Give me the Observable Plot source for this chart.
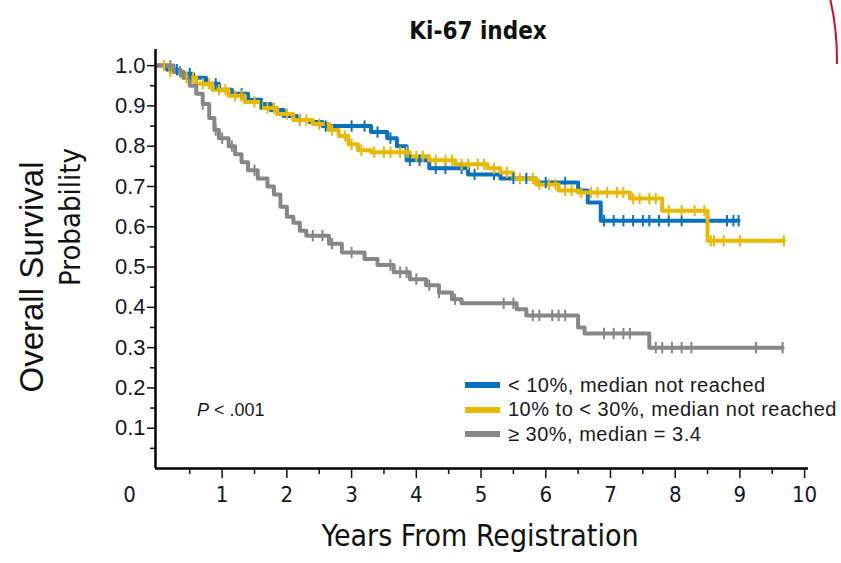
<!DOCTYPE html>
<html><head><meta charset="utf-8">
<script src="https://cdn.jsdelivr.net/npm/d3@7"></script>
<script src="https://cdn.jsdelivr.net/npm/@observablehq/plot@0.6"></script>
<style>
body{margin:0;background:#fff;}
#wrap{position:relative;width:841px;height:563px;overflow:hidden;background:#fff;}
#wrap svg{position:absolute;left:0;top:0;}
.legend{position:absolute;left:465px;top:373px;font-family:"Liberation Sans",Arial,sans-serif;font-size:20px;letter-spacing:0.5px;color:#1a1a1a;}
.legend .row{display:flex;align-items:center;height:24.5px;white-space:nowrap;}
.legend .sw{width:35px;height:6px;margin-right:8px;}
.pval{position:absolute;left:197px;top:400px;font-family:"Liberation Sans",Arial,sans-serif;font-size:18px;color:#1a1a1a;}
.arcclip{position:absolute;left:700px;top:0;width:141px;height:64px;overflow:hidden;}
.arc{position:absolute;left:-418px;top:-218px;width:556px;height:556px;border:2px solid #c8102e;border-radius:50%;box-sizing:border-box;}
</style></head><body>
<div id="wrap"></div>
<script>
// ---------- data ----------
const seriesNames = ["< 10%, median not reached", "10% to < 30%, median not reached", "\u2265 30%, median = 3.4"];
const seriesColors = ["#0a72bd", "#e8b904", "#878787"];

const xTicks = [1,2,3,4,5,6,7,8,9,10];
const xMinor = [0.5,1.5,2.5,3.5,4.5,5.5,6.5,7.5,8.5,9.5];
const yTicks = [0.1,0.2,0.3,0.4,0.5,0.6,0.7,0.8,0.9,1.0];
const yMinor = [0.05,0.15,0.25,0.35,0.45,0.55,0.65,0.75,0.85,0.95];

// < 10%
const blueT = [0,0.15,0.35,0.55,0.75,0.95,1.15,1.4,1.6,1.75,1.95,2.15,2.35,2.55,3.3,3.55,3.7,3.85,4.2,4.8,5.3,5.85,6.5,6.65,6.85];
const blueS = [1,0.99,0.98,0.97,0.955,0.94,0.93,0.915,0.905,0.89,0.875,0.865,0.86,0.85,0.835,0.82,0.8,0.765,0.745,0.73,0.72,0.71,0.69,0.66,0.615];
const blueEnd = 8.98;
const blueCens = [0.3,0.5,0.9,1.3,1.6,2.2,2.6,3.0,3.2,3.4,3.6,3.9,4.05,4.3,4.45,4.7,4.9,5.2,5.5,5.7,6.0,6.3,6.9,7.05,7.2,7.35,7.5,7.6,7.75,7.9,8.1,8.8,8.9,8.98];

// 10% to < 30%
const yellowT = [0,0.2,0.4,0.6,0.85,1.1,1.35,1.6,1.85,2.1,2.4,2.65,2.8,2.95,3.1,3.3,3.9,4.2,4.6,5.1,5.3,5.5,5.85,6.2,6.5,7.3,7.8,8.5];
const yellowS = [1,0.985,0.97,0.955,0.94,0.925,0.91,0.895,0.88,0.865,0.855,0.84,0.825,0.805,0.79,0.785,0.775,0.765,0.755,0.745,0.735,0.72,0.705,0.69,0.685,0.67,0.64,0.565];
const yellowEnd = 9.68;
const yellowCens = [0.1,0.2,0.35,0.45,0.55,0.7,0.8,0.95,1.05,1.2,1.3,1.5,1.7,1.8,2.0,2.2,2.3,2.5,2.7,2.9,3.0,3.15,3.35,3.5,3.6,3.75,3.85,4.0,4.1,4.3,4.45,4.55,4.7,4.8,4.95,5.05,5.2,5.4,5.6,5.8,5.9,6.05,6.15,6.3,6.4,6.55,6.7,6.8,6.95,7.1,7.2,7.35,7.45,7.6,7.7,7.9,8.1,8.3,8.45,8.55,8.6,8.75,9.0,9.68];

// >= 30%
const grayT = [0,0.25,0.4,0.5,0.6,0.7,0.8,0.88,0.95,1.1,1.2,1.3,1.4,1.55,1.7,1.8,1.9,2.0,2.1,2.2,2.3,2.65,2.85,3.2,3.4,3.65,3.9,4.15,4.35,4.55,4.7,5.55,5.7,6.5,6.6,7.6];
const grayS = [1,0.985,0.97,0.95,0.93,0.905,0.87,0.84,0.82,0.8,0.78,0.76,0.74,0.72,0.7,0.68,0.65,0.625,0.61,0.59,0.578,0.558,0.536,0.52,0.505,0.487,0.47,0.455,0.437,0.42,0.41,0.395,0.38,0.35,0.335,0.30];
const grayEnd = 9.66;
const grayCens = [0.2,0.35,0.7,0.9,1.0,1.15,1.5,2.4,2.55,2.7,3.0,3.6,3.75,3.85,4.0,4.2,4.35,4.6,5.35,5.5,5.8,5.9,6.1,6.2,6.3,6.9,7.05,7.2,7.3,7.7,7.8,7.95,8.1,8.25,9.25,9.66];

// ---------- build tables ----------
const groups = [
  {name: seriesNames[0], T: blueT, S: blueS, end: blueEnd, cens: blueCens},
  {name: seriesNames[1], T: yellowT, S: yellowS, end: yellowEnd, cens: yellowCens},
  {name: seriesNames[2], T: grayT, S: grayS, end: grayEnd, cens: grayCens}
];
const lineRows = [];
const censRows = [];
for (const g of groups) {
  g.T.forEach((t, i) => lineRows.push({group: g.name, t, s: g.S[i]}));
  lineRows.push({group: g.name, t: g.end, s: g.S[g.S.length - 1]});
  const stepAt = t => { let s = g.S[0]; g.T.forEach((tt, i) => { if (tt <= t) s = g.S[i]; }); return s; };
  g.cens.forEach(t => censRows.push({group: g.name, t, s: stepAt(t)}));
}

const censorSymbol = {draw(ctx, size) { const h = Math.sqrt(size); ctx.moveTo(0, -h); ctx.lineTo(0, h); }};
const narrow = "'DejaVu Sans Condensed','Liberation Sans Narrow',sans-serif";
const regular = "'Liberation Sans', Arial, sans-serif";
const xDomain = [-0.03, 10.06];
const yDomain = [0, 1.04];

const chart = Plot.plot({
  width: 841, height: 563,
  marginLeft: 155, marginRight: 33, marginTop: 49, marginBottom: 95,
  style: {fontFamily: regular, background: "transparent", color: "#111"},
  x: {domain: xDomain},
  y: {domain: yDomain},
  color: {domain: seriesNames, range: seriesColors},
  marks: [
    Plot.axisY(yTicks, {tickSize: 8, tickFormat: () => "", label: null, strokeWidth: 1.5}),
    Plot.axisY(yMinor, {tickSize: 5, tickFormat: () => "", label: null, strokeWidth: 1.5}),
    Plot.axisX(xTicks, {tickSize: 10, tickFormat: () => "", label: null, strokeWidth: 1.5}),
    Plot.axisX(xMinor, {tickSize: 6, tickFormat: () => "", label: null, strokeWidth: 1.5}),
    Plot.text(yTicks, {y: d => d, frameAnchor: "left", textAnchor: "end", dx: -10, text: d => d.toFixed(1), fontSize: 22, fill: "#141428", ariaLabel: "ytick"}),
    Plot.text(xTicks, {x: d => d, frameAnchor: "bottom", dy: 33, text: d => String(d), fontSize: 22, fontFamily: narrow, fill: "#141428"}),
    Plot.text([0], {x: d => d, frameAnchor: "bottom", dx: -28, dy: 33, text: d => String(d), fontSize: 22, fontFamily: narrow, fill: "#141428"}),
    Plot.lineY(lineRows, {x: "t", y: "s", z: "group", stroke: "group", strokeWidth: 4, curve: "step-after"}),
    Plot.dot(censRows, {x: "t", y: "s", stroke: "group", symbol: censorSymbol, r: 3.2, strokeWidth: 2, fill: "none"}),
    Plot.ruleX([xDomain[0]], {strokeWidth: 2.5, stroke: "#000"}),
    Plot.ruleY([0], {strokeWidth: 2.5, stroke: "#000"}),
    Plot.text(["Ki-67 index"], {frameAnchor: "top", dy: -28, fontSize: 24, fontWeight: "bold", fontFamily: narrow, dx: -4}),
    Plot.text(["Years From Registration"], {frameAnchor: "bottom", dy: 77, fontSize: 30, fontFamily: narrow, dx: -2}),
    Plot.text(["Overall Survival"], {frameAnchor: "left", textAnchor: "middle", dx: -123, dy: 18, rotate: -90, fontSize: 33}),
    Plot.text(["Probability"], {frameAnchor: "left", textAnchor: "middle", dx: -85, dy: -42, rotate: -90, fontSize: 29, fontFamily: narrow})
  ]
});

d3.select(chart).selectAll('g[aria-label="ytick"] text').style("letter-spacing", "2.5px");

const wrap = document.getElementById("wrap");
wrap.appendChild(chart);

// legend
const legend = document.createElement("div");
legend.className = "legend";
seriesNames.forEach((n, i) => {
  const row = document.createElement("div"); row.className = "row";
  const sw = document.createElement("div"); sw.className = "sw"; sw.style.background = seriesColors[i];
  const tx = document.createElement("span"); tx.textContent = n;
  row.appendChild(sw); row.appendChild(tx); legend.appendChild(row);
});
wrap.appendChild(legend);

const p = document.createElement("div");
p.className = "pval";
p.innerHTML = "<i>P</i> &lt; .001";
wrap.appendChild(p);

const arcClip = document.createElement("div");
arcClip.className = "arcclip";
const arc = document.createElement("div"); arc.className = "arc";
arcClip.appendChild(arc);
wrap.appendChild(arcClip);
</script>
</body></html>
